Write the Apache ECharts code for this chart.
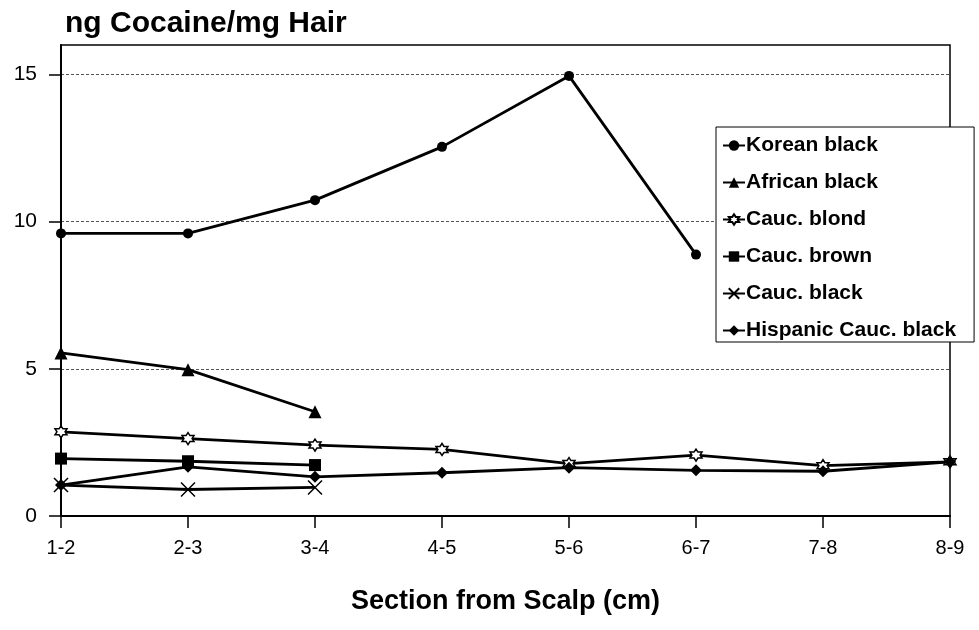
<!DOCTYPE html>
<html><head><meta charset="utf-8">
<script src="https://cdn.jsdelivr.net/npm/echarts@6/dist/echarts.min.js"></script>
<style>html,body{margin:0;padding:0;background:#fff}#c{width:979px;height:630px}</style>
</head><body><div id="c"></div>
<script>
const categories = ['1-2','2-3','3-4','4-5','5-6','6-7','7-8','8-9'];
const koreanBlack = [9.6, 9.6, 10.73, 12.54, 14.95, 8.88, null, null];
const africanBlack = [5.54, 4.97, 3.54, null, null, null, null, null];
const caucBlond = [2.86, 2.63, 2.41, 2.26, 1.78, 2.07, 1.71, 1.84];
const caucBrown = [1.95, 1.86, 1.73, null, null, null, null, null];
const caucBlack = [1.05, 0.9, 0.97, null, null, null, null, null];
const hispanicCaucBlack = [1.05, 1.67, 1.33, 1.47, 1.64, 1.55, 1.52, 1.84];
const yTicks = [0, 5, 10, 15];

const FONT = '"Liberation Sans", Arial, Helvetica, sans-serif';
const starPath = 'path://M5,0L6.4,2.5L9.3,2.5L7.9,5L9.3,7.5L6.4,7.5L5,10L3.6,7.5L0.7,7.5L2.1,5L0.7,2.5L3.6,2.5Z';
const xPath = 'path://M0,0L10,10M10,0L0,10';

function mk(name, data, symbol, size, extra) {
  return Object.assign({
    name: name, type: 'line', data: data, symbol: symbol, symbolSize: size,
    connectNulls: false,
    lineStyle: {color: '#000', width: 2.8},
    itemStyle: {color: '#000'},
    z: 3
  }, extra || {});
}

const chart = echarts.init(document.getElementById('c'), null, {renderer: 'canvas'});
chart.setOption({
  animation: false,
  backgroundColor: '#fff',
  title: {
    text: 'ng Cocaine/mg Hair', left: 60, top: 4,
    textStyle: {fontFamily: FONT, fontSize: 30, fontWeight: 'bold', color: '#000'}
  },
  grid: {left: 61, right: 29, top: 45, bottom: 114, show: true, borderColor: '#000', borderWidth: 1.5, backgroundColor: 'transparent'},
  xAxis: {
    type: 'category', data: categories, boundaryGap: false,
    name: 'Section from Scalp (cm)', nameLocation: 'middle', nameGap: 72,
    nameTextStyle: {fontFamily: FONT, fontSize: 27, fontWeight: 'bold', color: '#000'},
    axisLine: {lineStyle: {color: '#000', width: 2}},
    axisTick: {show: true, alignWithLabel: true, length: 12, lineStyle: {color: '#000', width: 1.5}},
    axisLabel: {fontFamily: FONT, fontSize: 20, color: '#000', margin: 22},
    splitLine: {show: false}
  },
  yAxis: {
    type: 'value', min: 0, max: 16, interval: 5,
    axisLine: {show: true, lineStyle: {color: '#000', width: 2}},
    axisTick: {show: true, length: 12, customValues: yTicks, lineStyle: {color: '#000', width: 1.5}},
    axisLabel: {fontFamily: FONT, fontSize: 21, color: '#000', margin: 24, customValues: yTicks},
    splitLine: {show: true, lineStyle: {color: '#555', type: [3, 2], width: 1}}
  },
  legend: {
    orient: 'vertical', left: 716, top: 127,
    backgroundColor: '#fff', borderColor: '#000', borderWidth: 1,
    padding: [8, 18, 1, 6], itemGap: 16, itemWidth: 22, itemHeight: 13,
    textStyle: {fontFamily: FONT, fontSize: 21, fontWeight: 'bold', color: '#000', padding: [0, 0, 0, -4]},
    data: ['Korean black','African black','Cauc. blond','Cauc. brown','Cauc. black','Hispanic Cauc. black'],
    z: 10
  },
  series: [
    mk('Korean black', koreanBlack, 'circle', 10),
    mk('African black', africanBlack, 'triangle', 13),
    mk('Cauc. blond', caucBlond, starPath, 12, {itemStyle: {color: '#fff', borderColor: '#000', borderWidth: 1.5}}),
    mk('Cauc. brown', caucBrown, 'rect', 12),
    mk('Cauc. black', caucBlack, xPath, 14, {itemStyle: {color: '#000', borderColor: '#000', borderWidth: 1.5}}),
    mk('Hispanic Cauc. black', hispanicCaucBlack, 'diamond', 12)
  ]
});
</script>
</body></html>
